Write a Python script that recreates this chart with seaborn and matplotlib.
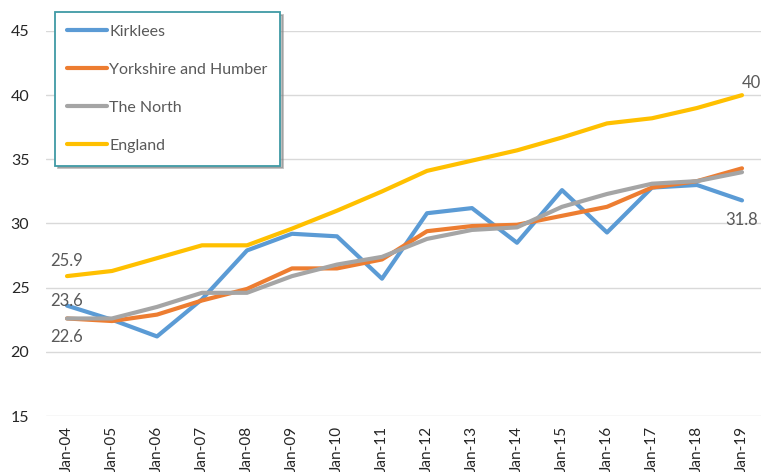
import matplotlib
matplotlib.use("Agg")
import matplotlib.pyplot as plt
import seaborn as sns
import pandas as pd

years = ["Jan-04", "Jan-05", "Jan-06", "Jan-07", "Jan-08", "Jan-09", "Jan-10", "Jan-11",
         "Jan-12", "Jan-13", "Jan-14", "Jan-15", "Jan-16", "Jan-17", "Jan-18", "Jan-19"]
kirklees = [23.6, 22.5, 21.2, 24.1, 27.9, 29.2, 29.0, 25.7, 30.8, 31.2, 28.5, 32.6, 29.3, 32.8, 33.0, 31.8]
yorkshire = [22.6, 22.4, 22.9, 24.0, 24.9, 26.5, 26.5, 27.2, 29.4, 29.8, 29.9, 30.6, 31.3, 32.8, 33.3, 34.3]
north = [22.6, 22.6, 23.5, 24.6, 24.6, 25.9, 26.8, 27.4, 28.8, 29.5, 29.7, 31.3, 32.3, 33.1, 33.3, 34.0]
england = [25.9, 26.3, 27.3, 28.3, 28.3, 29.6, 31.0, 32.5, 34.1, 34.9, 35.7, 36.7, 37.8, 38.2, 39.0, 40.0]

series_names = ["Kirklees", "Yorkshire and Humber", "The North", "England"]
series_vals = [kirklees, yorkshire, north, england]
colors = ["#5B9BD5", "#ED7D31", "#A5A5A5", "#FFC000"]
y_ticks = [15, 20, 25, 30, 35, 40, 45]

rows = []
for name, vals in zip(series_names, series_vals):
    for i, v in enumerate(vals):
        rows.append({"pos": i, "year": years[i], "value": v, "series": name})
df = pd.DataFrame(rows)

sns.set_style("white")
plt.rcParams["font.family"] = ["Lato", "DejaVu Sans"]

W, H = 761, 472
fig = plt.figure(figsize=(W / 100, H / 100), dpi=100)
ax_left, ax_right, ax_top, ax_bottom = 46, 761, 31, 416
ax = fig.add_axes([ax_left / W, 1 - ax_bottom / H, (ax_right - ax_left) / W, (ax_bottom - ax_top) / H])

sns.lineplot(data=df, x="pos", y="value", hue="series", hue_order=series_names,
             palette=colors, linewidth=3, sort=False, ax=ax, legend=True)

step = 45.0
x0 = 67
ax.set_xlim(-(x0 - ax_left) / step, (ax_right - x0) / step)
ax.set_ylim(15, 45)
ax.set_yticks(y_ticks)
ax.set_xticks(range(len(years)))
ax.set_xticklabels(years, rotation=90, va="top", ha="center")
ax.tick_params(axis="y", length=0, pad=12, labelsize=11.5, labelcolor="#262626")
ax.tick_params(axis="x", length=0, pad=7, labelsize=11, labelcolor="#262626")
ax.yaxis.grid(True, color="#d9d9d9", linewidth=1)
ax.xaxis.grid(False)
for s in ax.spines.values():
    s.set_visible(False)
ax.set_xlabel("")
ax.set_ylabel("")
ax.set_axisbelow(True)

lab_kw = dict(color="#595959", fontsize=12, textcoords="offset points")
ax.annotate(f"{england[0]}", (0, england[0]), xytext=(0, 11), ha="center", va="center", **lab_kw)
ax.annotate(f"{kirklees[0]}", (0, kirklees[0]), xytext=(0, 3), ha="center", va="center", **lab_kw)
ax.annotate(f"{north[0]}", (0, north[0]), xytext=(0, -13), ha="center", va="center", **lab_kw)
ax.annotate(f"{england[-1]:g}", (15, england[-1]), xytext=(0, 9), ha="left", va="center", **lab_kw)
ax.annotate(f"{kirklees[-1]}", (15, kirklees[-1]), xytext=(0, -14), ha="center", va="center", **lab_kw)

handles, labels = ax.get_legend_handles_labels()
leg = ax.legend(handles, labels, loc="upper left", bbox_to_anchor=(55 / W, 1 - 12 / H),
                bbox_transform=fig.transFigure, frameon=True, fancybox=False,
                fontsize=11.5, handlelength=2.5, handletextpad=0.12, labelspacing=1.5,
                borderpad=0.78, borderaxespad=0,
                shadow={"color": "#7f7f7f", "alpha": 0.5})
frame = leg.get_frame()
frame.set_edgecolor("#3F9AA5")
frame.set_linewidth(1.3)
frame.set_facecolor("white")
for t in leg.get_texts():
    t.set_color("#595959")
for l in leg.get_lines():
    l.set_linewidth(3)

fig.savefig("out.png", dpi=100)
